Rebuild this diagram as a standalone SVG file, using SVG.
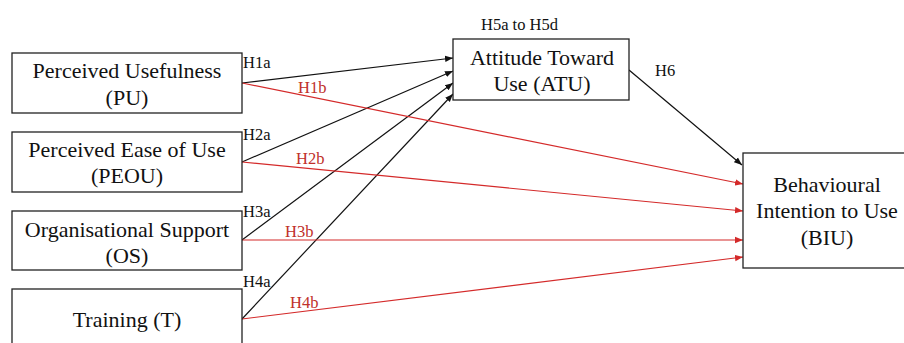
<svg xmlns="http://www.w3.org/2000/svg" width="904" height="343" viewBox="0 0 904 343">
<defs>
<style>
.box{fill:#fff;stroke:#222;stroke-width:1.3}
.t{font-family:"Liberation Serif","Times New Roman",serif;font-size:22px;fill:#111;text-anchor:middle}
.lb{font-family:"Liberation Serif","Times New Roman",serif;font-size:16.5px;fill:#111}
.lr{font-family:"Liberation Serif","Times New Roman",serif;font-size:16.5px;fill:#c0302a}
.k{stroke:#111;stroke-width:1.2;fill:none;marker-end:url(#ak)}
.r{stroke:#d42a2a;stroke-width:1.2;fill:none;marker-end:url(#ar)}
</style>
<marker id="ak" viewBox="0 0 10 10" refX="10" refY="5" markerWidth="8" markerHeight="8" markerUnits="userSpaceOnUse" orient="auto"><path d="M0,1 L10,5 L0,9 z" fill="#111"/></marker>
<marker id="ar" viewBox="0 0 10 10" refX="10" refY="5" markerWidth="8" markerHeight="8" markerUnits="userSpaceOnUse" orient="auto"><path d="M0,1 L10,5 L0,9 z" fill="#d42a2a"/></marker>
</defs>
<rect width="904" height="343" fill="#fff"/>
<g id="connectors">
<line class="k" x1="242" y1="83" x2="453" y2="58"/>
<line class="k" x1="242" y1="162" x2="453" y2="71"/>
<line class="k" x1="242" y1="240" x2="453" y2="83"/>
<line class="k" x1="242" y1="319" x2="453" y2="94"/>
<line class="r" x1="242" y1="83" x2="743" y2="184"/>
<line class="r" x1="242" y1="162" x2="743" y2="211"/>
<line class="r" x1="242" y1="240" x2="743" y2="240"/>
<line class="r" x1="242" y1="319" x2="743" y2="257"/>
<line class="k" x1="629" y1="70" x2="742" y2="165"/>
<text class="lb" x="243" y="68">H1a</text>
<text class="lr" x="298" y="93">H1b</text>
<text class="lb" x="243" y="140">H2a</text>
<text class="lr" x="296" y="164">H2b</text>
<text class="lb" x="243" y="217">H3a</text>
<text class="lr" x="285" y="237">H3b</text>
<text class="lb" x="243" y="287">H4a</text>
<text class="lr" x="290" y="308">H4b</text>
<text class="lb" x="481" y="30">H5a to H5d</text>
<text class="lb" x="655" y="76">H6</text>
</g>
<g id="PU"><rect class="box" x="12" y="53" width="230" height="60"/><text class="t" x="127" y="78">Perceived Usefulness</text><text class="t" x="127" y="105">(PU)</text></g>
<g id="PEOU"><rect class="box" x="12" y="132" width="230" height="60"/><text class="t" x="127" y="157">Perceived Ease of Use</text><text class="t" x="127" y="183">(PEOU)</text></g>
<g id="OS"><rect class="box" x="12" y="211" width="230" height="59"/><text class="t" x="127" y="237">Organisational Support</text><text class="t" x="127" y="263">(OS)</text></g>
<g id="T"><rect class="box" x="12" y="289" width="230" height="70"/><text class="t" x="127" y="327">Training (T)</text></g>
<g id="ATU"><rect class="box" x="453" y="39" width="176" height="61"/><text class="t" x="542" y="65">Attitude Toward</text><text class="t" x="542" y="91">Use (ATU)</text></g>
<g id="BIU"><rect class="box" x="743" y="153" width="170" height="115"/><text class="t" x="827" y="192">Behavioural</text><text class="t" x="827" y="218">Intention to Use</text><text class="t" x="827" y="245">(BIU)</text></g>
</svg>
